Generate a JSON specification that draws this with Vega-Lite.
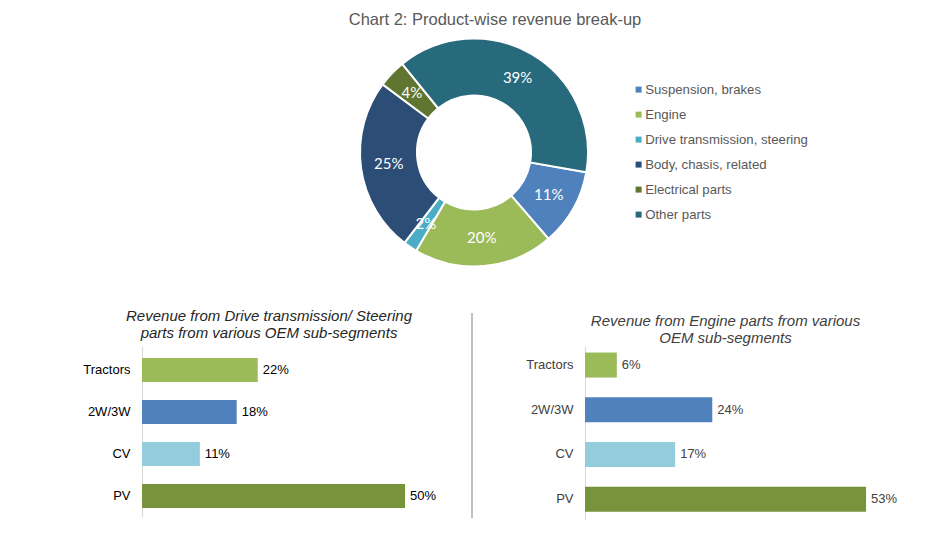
{
  "$schema": "https://vega.github.io/schema/vega-lite/v6.json",
  "padding": {"left": 82, "top": 12, "right": 0, "bottom": 0},
  "background": "white",
  "config": {"view": {"stroke": null}, "font": "Liberation Sans"},
  "spacing": 38,
  "vconcat": [
    {
      "width": 664,
      "height": 229,
      "title": {"text": "Chart 2: Product-wise revenue break-up", "fontSize": 16.5, "fontWeight": "normal", "color": "#595959", "offset": 6, "anchor": "middle", "dx": 21},
      "data": {"values": [
        {"part": "Suspension, brakes", "share": 0.11, "idx": 1},
        {"part": "Engine", "share": 0.20, "idx": 2},
        {"part": "Drive transmission, steering", "share": 0.02, "idx": 3},
        {"part": "Body, chasis, related", "share": 0.25, "idx": 4},
        {"part": "Electrical parts", "share": 0.04, "idx": 5},
        {"part": "Other parts", "share": 0.39, "idx": 6}
      ]},
      "encoding": {
        "theta": {"field": "share", "type": "quantitative", "stack": true, "scale": {"range": [1.745, 8.028]}},
        "order": {"field": "idx", "type": "quantitative"},
        "color": {
          "field": "part", "type": "nominal",
          "scale": {
            "domain": ["Suspension, brakes", "Engine", "Drive transmission, steering", "Body, chasis, related", "Electrical parts", "Other parts"],
            "range": ["#4F81BD", "#9BBB59", "#4BACC6", "#2C4D75", "#5F7530", "#276A7C"]
          },
          "legend": {
            "orient": "none", "legendX": 490, "legendY": 45, "title": null,
            "symbolType": "square", "symbolSize": 36, "symbolStrokeWidth": 0,
            "labelFontSize": 13.2, "labelColor": "#595959", "rowPadding": 11, "labelOffset": 0, "labelLimit": 400
          }
        }
      },
      "layer": [
        {"mark": {"type": "arc", "outerRadius": 114, "innerRadius": 57, "stroke": "white", "strokeWidth": 2}},
        {
          "mark": {"type": "text", "radius": 86, "fontSize": 15, "font": "Lato"},
          "encoding": {
            "text": {"field": "share", "type": "quantitative", "format": ".0%"},
            "color": {"value": "white"}
          }
        }
      ]
    },
    {
      "spacing": 0,
      "hconcat": [
        {
          "width": 300,
          "height": 171,
          "title": {"text": ["Revenue from Drive transmission/ Steering", "parts from various OEM sub-segments"], "fontSize": 15, "fontStyle": "italic", "fontWeight": "normal", "color": "#262626", "lineHeight": 17, "offset": 5, "anchor": "middle", "dx": -23},
          "data": {"values": [
            {"seg": "Tractors", "v": 0.22},
            {"seg": "2W/3W", "v": 0.18},
            {"seg": "CV", "v": 0.11},
            {"seg": "PV", "v": 0.50}
          ]},
          "encoding": {
            "y": {"field": "seg", "type": "nominal", "sort": ["Tractors", "2W/3W", "CV", "PV"],
              "scale": {"paddingInner": 0.43, "paddingOuter": 0.25, "align": 0.57},
              "axis": {"title": null, "ticks": false, "labelFontSize": 13, "labelColor": "#000000", "labelPadding": 12, "domainColor": "#d9d9d9"}},
            "x": {"field": "v", "type": "quantitative", "scale": {"domain": [0, 0.5703]}, "axis": null}
          },
          "layer": [
            {"mark": {"type": "bar"},
             "encoding": {"color": {"field": "seg", "type": "nominal", "scale": {"domain": ["Tractors", "2W/3W", "CV", "PV"], "range": ["#9BBB59", "#4F81BD", "#93CDDD", "#77933C"]}, "legend": null}}},
            {"mark": {"type": "text", "align": "left", "dx": 5, "fontSize": 13, "color": "#000000"},
             "encoding": {"text": {"field": "v", "type": "quantitative", "format": ".0%"}}}
          ]
        },
        {
          "width": 83,
          "height": 172,
          "data": {"values": [{}]},
          "mark": {"type": "rule", "color": "#808080", "strokeWidth": 1},
          "encoding": {
            "x": {"datum": 30, "type": "quantitative", "scale": {"domain": [0, 83]}, "axis": null},
            "y": {"datum": 0, "type": "quantitative", "scale": {"domain": [0, 172]}, "axis": null},
            "y2": {"datum": 205}
          }
        },
        {
          "width": 315,
          "height": 174,
          "title": {"text": ["Revenue from Engine parts from various", "OEM sub-segments"], "fontSize": 15, "fontStyle": "italic", "fontWeight": "normal", "color": "#404040", "lineHeight": 17, "offset": 0, "anchor": "middle", "dx": -17},
          "data": {"values": [
            {"seg": "Tractors", "v": 0.06},
            {"seg": "2W/3W", "v": 0.24},
            {"seg": "CV", "v": 0.17},
            {"seg": "PV", "v": 0.53}
          ]},
          "encoding": {
            "y": {"field": "seg", "type": "nominal", "sort": ["Tractors", "2W/3W", "CV", "PV"],
              "scale": {"paddingInner": 0.44, "paddingOuter": 0.166, "align": 0.44},
              "axis": {"title": null, "ticks": false, "labelFontSize": 13, "labelColor": "#404040", "labelPadding": 12, "domainColor": "#d9d9d9"}},
            "x": {"field": "v", "type": "quantitative", "scale": {"domain": [0, 0.594]}, "axis": null}
          },
          "layer": [
            {"mark": {"type": "bar"},
             "encoding": {"color": {"field": "seg", "type": "nominal", "scale": {"domain": ["Tractors", "2W/3W", "CV", "PV"], "range": ["#9BBB59", "#4F81BD", "#93CDDD", "#77933C"]}, "legend": null}}},
            {"mark": {"type": "text", "align": "left", "dx": 5, "fontSize": 13, "color": "#404040"},
             "encoding": {"text": {"field": "v", "type": "quantitative", "format": ".0%"}}}
          ]
        }
      ]
    }
  ],
  "resolve": {"scale": {"color": "independent"}}
}
